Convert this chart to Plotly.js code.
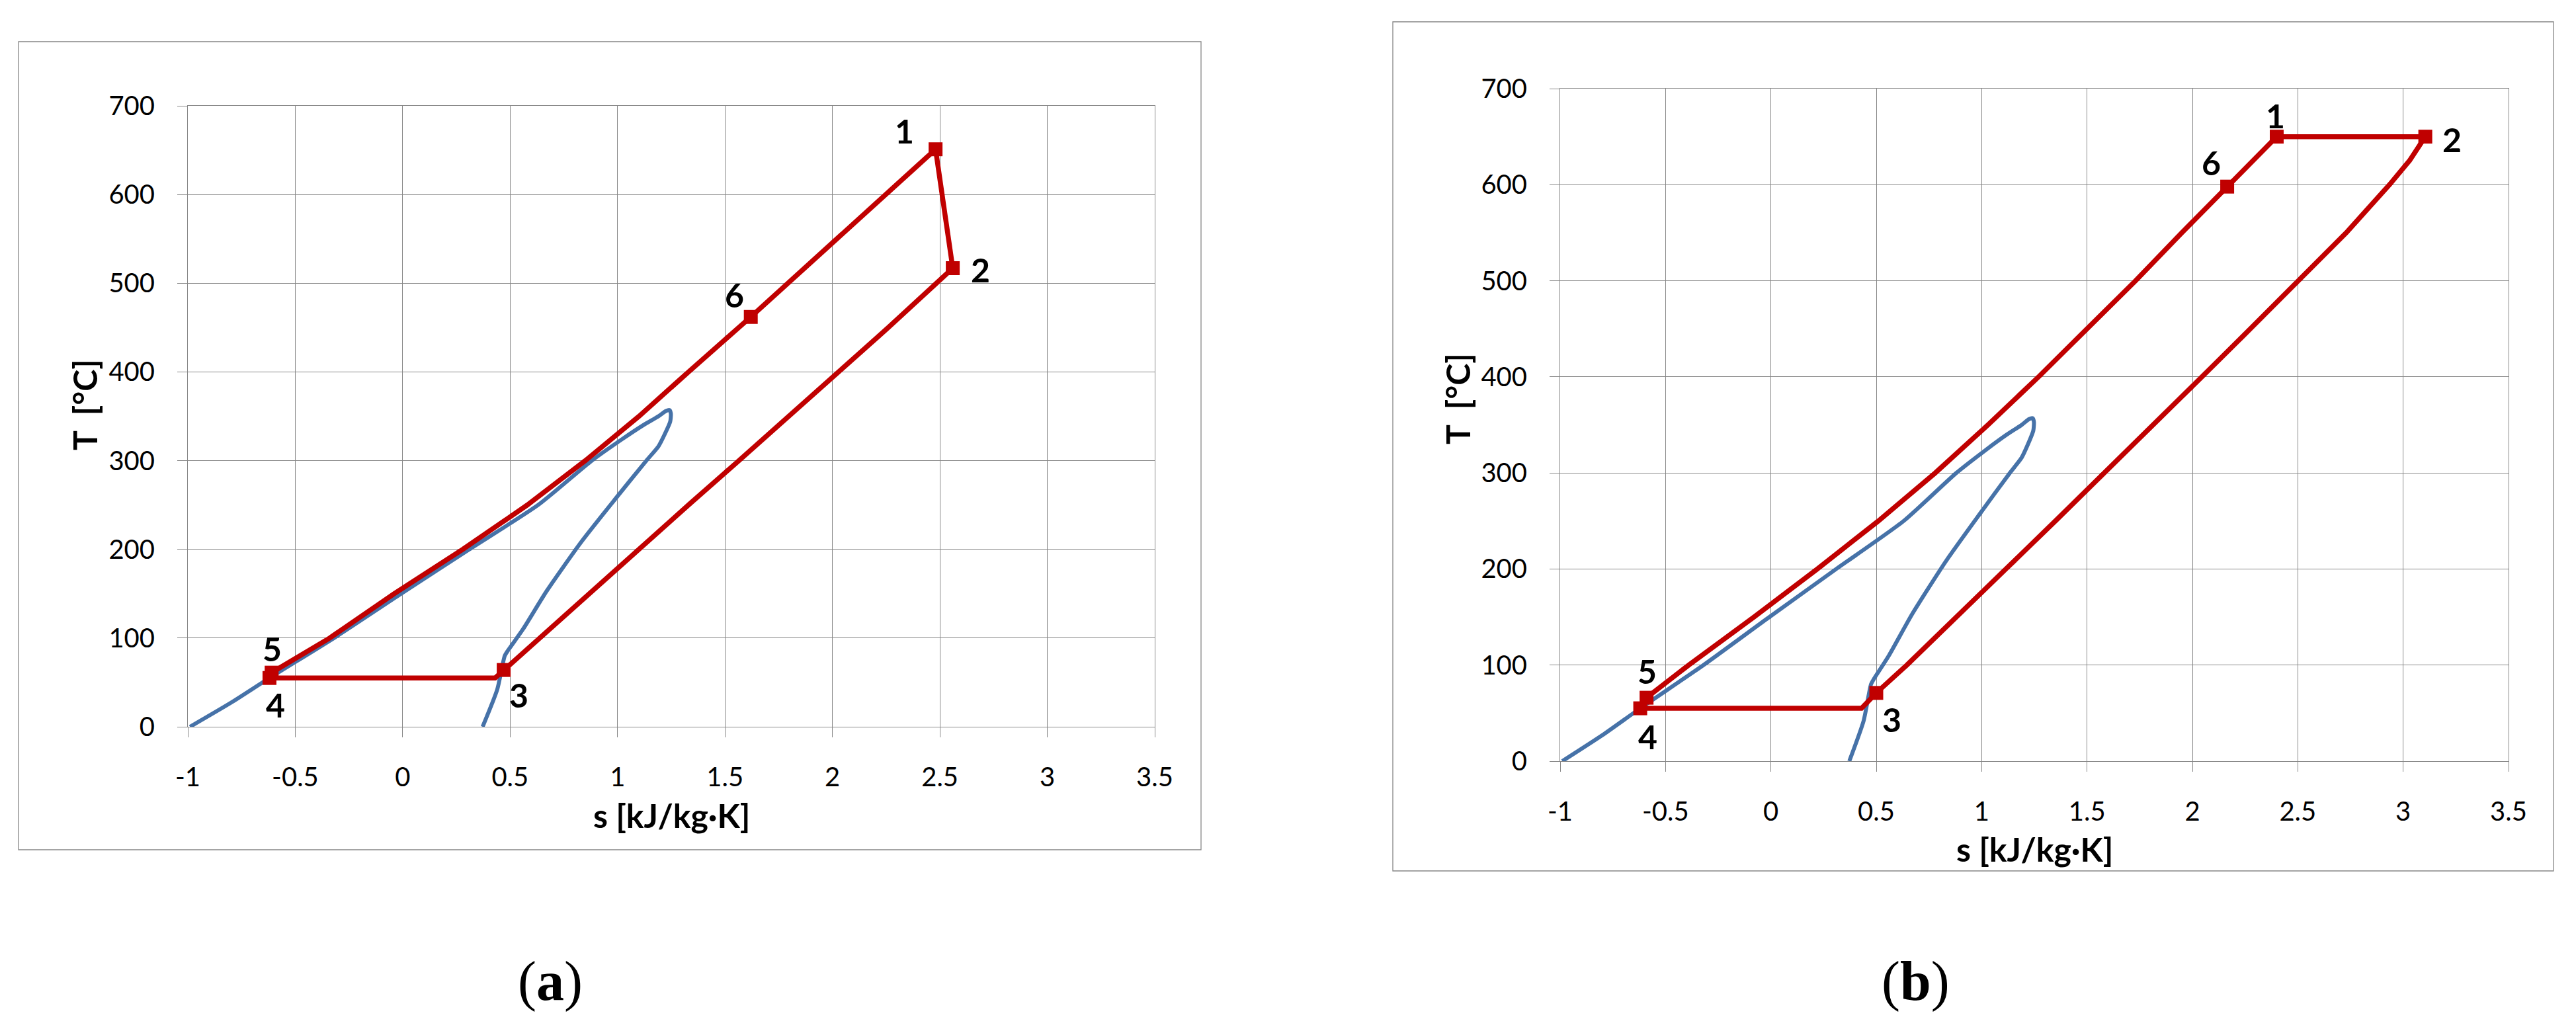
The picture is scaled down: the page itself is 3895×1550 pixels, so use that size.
<!DOCTYPE html>
<html>
<head>
<meta charset="utf-8">
<script src="https://cdn.plot.ly/plotly-3.0.1.min.js"></script>
<style>
  html, body { margin: 0; padding: 0; background: #ffffff; }
  #chart { width: 3895px; height: 1550px; }
</style>
</head>
<body>
<div id="chart"></div>
<script>
// ---------------- data ----------------
// axis ticks
const sTicks = [-1, -0.5, 0, 0.5, 1, 1.5, 2, 2.5, 3, 3.5];
const sTickLabels = ['-1', '-0.5', '0', '0.5', '1', '1.5', '2', '2.5', '3', '3.5'];
const TTicks = [0, 100, 200, 300, 400, 500, 600, 700];
const TTickLabels = ['0', '100', '200', '300', '400', '500', '600', '700'];

// saturation dome (blue), same fluid in both panels
const satS = [-0.99, -0.80, -0.62, -0.32, -0.02, 0.31, 0.63, 0.88, 1.02, 1.12, 1.19, 1.225, 1.242, 1.248, 1.245, 1.22, 1.19, 1.134, 0.99, 0.83, 0.67, 0.56, 0.49, 0.475, 0.44, 0.372];
const satT = [0, 27, 55, 100, 148, 200, 250, 300, 324, 340, 350, 356, 357, 353, 344, 330, 316, 300, 257, 208, 153, 110, 86, 80, 42, 0];

// state labels
const stateLabels = ['1', '2', '3', '4', '5', '6'];

// panel (a): cycle path and state points
const aPathS = [2.48, 2.56, 2.26, 2.03, 1.80, 1.565, 1.33, 1.10, 0.87, 0.64, 0.47, 0.43, -0.62, -0.61, -0.34, -0.04, 0.28, 0.58, 0.85, 1.10, 1.33, 1.62, 2.48];
const aPathT = [651, 517, 450, 400, 350, 300, 250, 200, 150, 100, 64, 55, 55, 61, 100, 150, 200, 250, 300, 350, 400, 462, 651];
const aStateS = [2.48, 2.56, 0.47, -0.62, -0.61, 1.62];
const aStateT = [651, 517, 64, 55, 61, 462];

// panel (b): cycle path and state points
const bPathS = [2.40, 3.105, 3.03, 2.935, 2.73, 2.505, 2.275, 2.045, 1.815, 1.585, 1.35, 1.115, 0.88, 0.645, 0.50, 0.43, -0.62, -0.59, -0.39, -0.08, 0.22, 0.51, 0.78, 1.03, 1.27, 1.50, 1.73, 1.95, 2.165, 2.40];
const bPathT = [650, 650, 625, 600, 550, 500, 450, 400, 350, 300, 250, 200, 150, 100, 71, 55, 55, 66, 100, 150, 200, 250, 300, 350, 400, 450, 500, 550, 598, 650];
const bStateS = [2.40, 3.105, 0.50, -0.62, -0.59, 2.165];
const bStateT = [650, 650, 71, 55, 66, 598];

// text
const xTitle = 's [kJ/kg·K]';
const yTitle = 'T  [°C]';
const panelNames = ['a', 'b'];

// ---------------- styling / layout ----------------
const W = 3895, H = 1550;
const RED = '#C00000';
const BLUE = '#4672A8';
const GRID = '#878787';
const px2x = v => v / W;
const px2y = v => 1 - v / H;

// label offsets (px, screen) for state numbers
const aOff = [[-47, 28], [42, -3], [23, -38], [9, -41], [1, 36], [-25, 33]];
const bOff = [[-2, 32], [40, -4], [23, -40], [11, -43], [1, 40], [-24, 36]];

function axisBase(extra) {
  return Object.assign({
    showgrid: true, gridcolor: GRID, gridwidth: 1,
    showline: true, mirror: true, linecolor: GRID, linewidth: 1,
    ticks: 'outside', ticklen: 15, tickwidth: 1, tickcolor: GRID,
    zeroline: false, fixedrange: true,
    tickfont: { family: 'Lato, "Open Sans", sans-serif', size: 40, color: '#000' }
  }, extra);
}

const traces = [];
function addPanel(xa, ya, pathS, pathT, stS, stT) {
  traces.push({ x: satS, y: satT, xaxis: xa, yaxis: ya, type: 'scatter', mode: 'lines',
    line: { color: BLUE, width: 6, shape: 'spline', smoothing: 0.6 }, hoverinfo: 'skip', showlegend: false });
  traces.push({ x: pathS, y: pathT, xaxis: xa, yaxis: ya, type: 'scatter', mode: 'lines',
    line: { color: RED, width: 7.5 }, hoverinfo: 'skip', showlegend: false });
  traces.push({ x: stS, y: stT, xaxis: xa, yaxis: ya, type: 'scatter', mode: 'markers',
    marker: { symbol: 'square', size: 21, color: RED }, hoverinfo: 'skip', showlegend: false });
}
addPanel('x', 'y', aPathS, aPathT, aStateS, aStateT);
addPanel('x2', 'y2', bPathS, bPathT, bStateS, bStateT);

const annotations = [];
const labFont = { family: 'Lato, "Open Sans", sans-serif', size: 50, color: '#000' };
function addLabels(xr, yr, stS, stT, off) {
  stateLabels.forEach((t, i) => {
    annotations.push({ x: stS[i], y: stT[i], xref: xr, yref: yr, text: '<b>' + t + '</b>',
      showarrow: false, xanchor: 'center', yanchor: 'middle',
      xshift: off[i][0], yshift: off[i][1], font: labFont });
  });
}
addLabels('x', 'y', aStateS, aStateT, aOff);
addLabels('x2', 'y2', bStateS, bStateT, bOff);

function addTitles(xc, xyc, yc, yyc) {
  annotations.push({ xref: 'paper', yref: 'paper', x: px2x(xc), y: px2y(xyc), text: '<b>' + xTitle + '</b>',
    showarrow: false, xanchor: 'center', yanchor: 'middle', font: labFont });
  annotations.push({ xref: 'paper', yref: 'paper', x: px2x(yc), y: px2y(yyc), text: '<b>' + yTitle + '</b>',
    showarrow: false, xanchor: 'center', yanchor: 'middle', textangle: -90, font: labFont });
}
addTitles(1015, 1233, 128, 612);
addTitles(3076, 1284, 2204, 603);

const capFont = { family: '"Liberation Serif", "DejaVu Serif", serif', size: 84, color: '#000' };
[[832, 1484], [2896, 1484]].forEach((p, i) => {
  annotations.push({ xref: 'paper', yref: 'paper', x: px2x(p[0]), y: px2y(p[1]),
    text: '(<b>' + panelNames[i] + '</b>)', showarrow: false, xanchor: 'center', yanchor: 'middle', font: capFont });
});

const frameLine = { color: GRID, width: 1.3 };
const shapes = [
  { type: 'rect', xref: 'paper', yref: 'paper', x0: px2x(28), x1: px2x(1816), y0: px2y(1285), y1: px2y(63), line: frameLine, layer: 'below' },
  { type: 'rect', xref: 'paper', yref: 'paper', x0: px2x(2106), x1: px2x(3861), y0: px2y(1317), y1: px2y(33), line: frameLine, layer: 'below' }
];

const layout = {
  width: W, height: H,
  margin: { l: 0, r: 0, t: 0, b: 0, pad: 0 },
  paper_bgcolor: '#ffffff', plot_bgcolor: '#ffffff',
  showlegend: false,
  xaxis: axisBase({ domain: [px2x(284), px2x(1746)], range: [-1, 3.5], tickvals: sTicks, ticktext: sTickLabels, anchor: 'y', ticklabelstandoff: 26 }),
  yaxis: axisBase({ domain: [px2y(1099), px2y(160)], range: [0, 700], tickvals: TTicks, ticktext: TTickLabels, anchor: 'x', ticklabelstandoff: 26 }),
  xaxis2: axisBase({ domain: [px2x(2359), px2x(3793)], range: [-1, 3.5], tickvals: sTicks, ticktext: sTickLabels, anchor: 'y2', ticklabelstandoff: 26 }),
  yaxis2: axisBase({ domain: [px2y(1151), px2y(134)], range: [0, 700], tickvals: TTicks, ticktext: TTickLabels, anchor: 'x2', ticklabelstandoff: 26 }),
  annotations: annotations,
  shapes: shapes
};

Plotly.newPlot('chart', traces, layout, { displayModeBar: false, staticPlot: true });
</script>
</body>
</html>
